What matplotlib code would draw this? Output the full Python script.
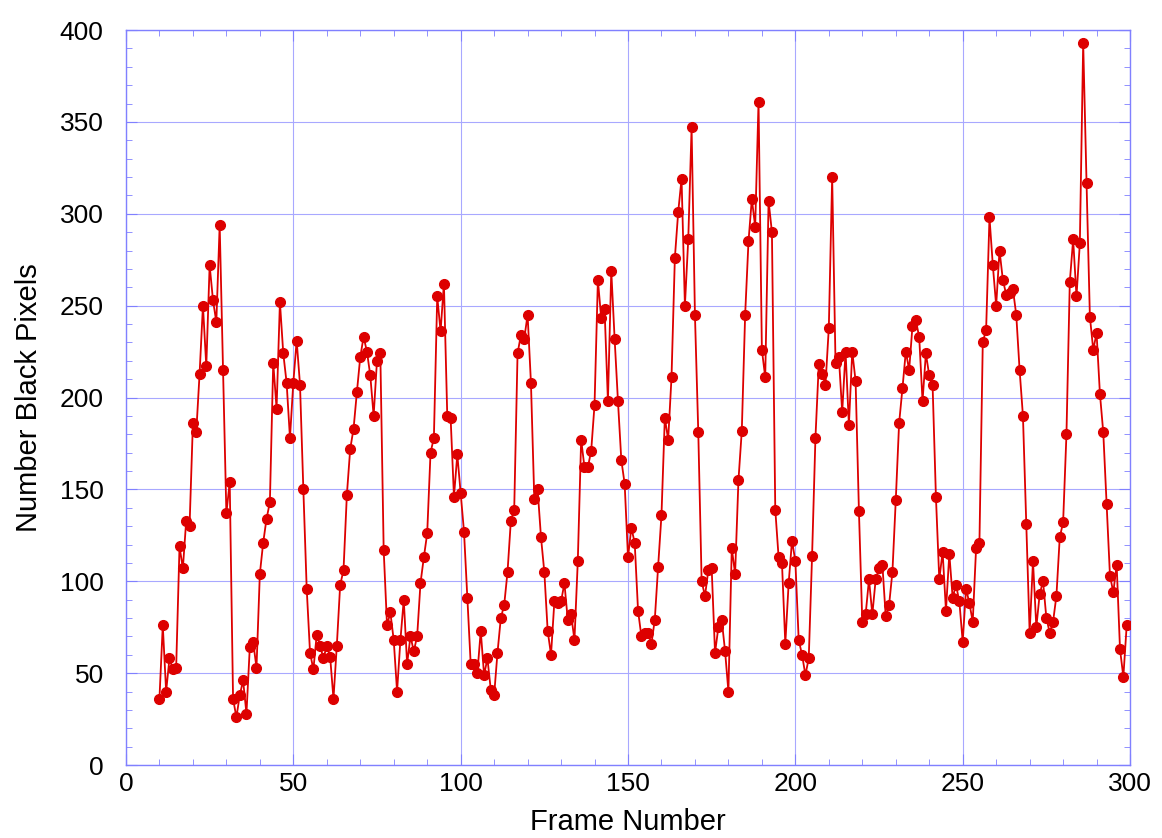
import matplotlib
matplotlib.use("Agg")
import matplotlib.pyplot as plt
from matplotlib.ticker import MultipleLocator

frames = list(range(10, 300))
black_pixels = [
    36, 76, 40, 58, 52, 53, 119, 107, 133, 130,          # 10-19
    186, 181, 213, 250, 217, 272, 253, 241, 294, 215,    # 20-29
    137, 154, 36, 26, 38, 46, 28, 64, 67, 53,            # 30-39
    104, 121, 134, 143, 219, 194, 252, 224, 208, 178,    # 40-49
    208, 231, 207, 150, 96, 61, 52, 71, 65, 58,          # 50-59
    65, 59, 36, 65, 98, 106, 147, 172, 183, 203,         # 60-69
    222, 233, 225, 212, 190, 220, 224, 117, 76, 83,      # 70-79
    68, 40, 68, 90, 55, 70, 62, 70, 99, 113,             # 80-89
    126, 170, 178, 255, 236, 262, 190, 189, 146, 169,    # 90-99
    148, 127, 91, 55, 55, 50, 73, 49, 58, 41,            # 100-109
    38, 61, 80, 87, 105, 133, 139, 224, 234, 232,        # 110-119
    245, 208, 145, 150, 124, 105, 73, 60, 89, 88,        # 120-129
    89, 99, 79, 82, 68, 111, 177, 162, 162, 171,         # 130-139
    196, 264, 243, 248, 198, 269, 232, 198, 166, 153,    # 140-149
    113, 129, 121, 84, 70, 72, 72, 66, 79, 108,          # 150-159
    136, 189, 177, 211, 276, 301, 319, 250, 286, 347,    # 160-169
    245, 181, 100, 92, 106, 107, 61, 75, 79, 62,         # 170-179
    40, 118, 104, 155, 182, 245, 285, 308, 293, 361,     # 180-189
    226, 211, 307, 290, 139, 113, 110, 66, 99, 122,      # 190-199
    111, 68, 60, 49, 58, 114, 178, 218, 213, 207,        # 200-209
    238, 320, 219, 222, 192, 225, 185, 225, 209, 138,    # 210-219
    78, 82, 101, 82, 101, 107, 109, 81, 87, 105,         # 220-229
    144, 186, 205, 225, 215, 239, 242, 233, 198, 224,    # 230-239
    212, 207, 146, 101, 116, 84, 115, 91, 98, 89,        # 240-249
    67, 96, 88, 78, 118, 121, 230, 237, 298, 272,        # 250-259
    250, 280, 264, 256, 257, 259, 245, 215, 190, 131,    # 260-269
    72, 111, 75, 93, 100, 80, 72, 78, 92, 124,           # 270-279
    132, 180, 263, 286, 255, 284, 393, 317, 244, 226,    # 280-289
    235, 202, 181, 142, 103, 94, 109, 63, 48, 76,        # 290-299
]

x_label = "Frame Number"
y_label = "Number Black Pixels"

plt.rcParams['font.family'] = ['Liberation Sans', 'DejaVu Sans']

fig = plt.figure(figsize=(11.62, 8.38), dpi=100)
ax = fig.add_axes([0.1084, 0.0871, 0.8641, 0.8771])

ax.plot(frames, black_pixels, color='#dd0000', linewidth=1.3,
        marker='o', markersize=7, markerfacecolor='#dd0000',
        markeredgecolor='#dd0000', zorder=3)

ax.set_xlim(0, 300)
ax.set_ylim(0, 400)
ax.xaxis.set_major_locator(MultipleLocator(50))
ax.yaxis.set_major_locator(MultipleLocator(50))
ax.xaxis.set_minor_locator(MultipleLocator(10))
ax.yaxis.set_minor_locator(MultipleLocator(10))

ax.grid(True, which='major', color='#a8a8ff', linewidth=0.8)
ax.set_axisbelow(True)
for s in ax.spines.values():
    s.set_color('#8080ff')
    s.set_linewidth(1.0)

ax.tick_params(which='both', direction='in', top=True, right=True,
               color='#8080ff', labelsize=19)
ax.tick_params(axis='y', which='major', pad=16)
ax.tick_params(axis='x', which='major', pad=5)
ax.tick_params(which='major', length=8)
ax.tick_params(which='minor', length=4)

ax.set_xlabel(x_label, fontsize=21, labelpad=9)
ax.set_ylabel(y_label, fontsize=21, labelpad=12)

fig.savefig("out.png", dpi=100)
